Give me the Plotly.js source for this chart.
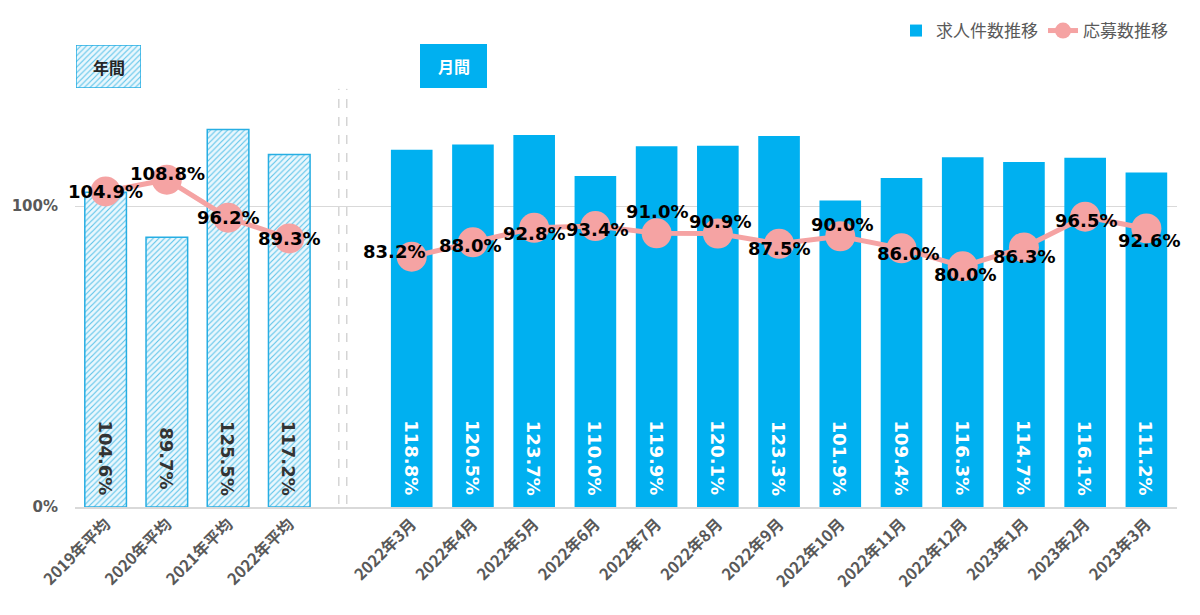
<!DOCTYPE html>
<html>
<head>
<meta charset="utf-8">
<script src="https://cdn.plot.ly/plotly-3.0.1.min.js"></script>
<style>html,body{margin:0;padding:0;background:#fff;}#chart{width:1200px;height:615px;}</style>
</head>
<body>
<div id="chart"></div>
<script>
// ---- data ----
const annualCategories = ['2019年平均', '2020年平均', '2021年平均', '2022年平均'];
const monthlyCategories = ['2022年3月', '2022年4月', '2022年5月', '2022年6月', '2022年7月', '2022年8月', '2022年9月', '2022年10月', '2022年11月', '2022年12月', '2023年1月', '2023年2月', '2023年3月'];
const annualJobs = [104.6, 89.7, 125.5, 117.2];
const annualApplicants = [104.9, 108.8, 96.2, 89.3];
const monthlyJobs = [118.8, 120.5, 123.7, 110.0, 119.9, 120.1, 123.3, 101.9, 109.4, 116.3, 114.7, 116.1, 111.2];
const monthlyApplicants = [83.2, 88.0, 92.8, 93.4, 91.0, 90.9, 87.5, 90.0, 86.0, 80.0, 86.3, 96.5, 92.6];
const seriesNames = ['求人件数推移', '応募数推移'];
const yTickVals = [0, 100];
const yTickText = ['0%', '100%'];

// ---- layout helpers (positions / styles) ----
const W = 1200, H = 615, ML = 75, MR = 23, MT = 45, MB = 108;
const plotW = W - ML - MR, plotH = H - MT - MB;
const pxPerUnit = 3.008;
const px2x = p => (p - ML) / plotW;
const px2y = p => (H - MB - p) / plotH;

const annualX = annualCategories.map((_, i) => i);
const gapSlot = annualCategories.length;            // empty slot between the two groups
const monthlyX = monthlyCategories.map((_, i) => gapSlot + 1 + i);
const annualLabelShift = [[0, 0], [1, 6], [0, 0], [0, 0]];
const monthlyLabelShift = [[-18, 5], [-3, -3], [0, -6], [2, -3], [0, 22], [2, 12], [0, -5], [2, 12], [6, -5], [2, -8], [0, -9], [1, -4], [3, -12]];

const BLUE = '#00b0f0';
const PINK = '#f5a3a3';
const hatch = {color: '#e4f5fc', line: {color: '#27aee3', width: 1.5},
               pattern: {shape: '/', fgcolor: '#5cc4ea', bgcolor: '#eaf7fd', size: 4, solidity: 0.28}};
const pct = v => v.toFixed(1) + '%';

const traces = [
  {
    type: 'bar', x: monthlyX, y: monthlyJobs, name: seriesNames[0],
    marker: {color: BLUE}, width: 0.68, showlegend: true, hoverinfo: 'skip'
  },
  {
    type: 'bar', x: annualX, y: annualJobs, name: seriesNames[0],
    marker: hatch, width: 0.68, showlegend: false, hoverinfo: 'skip'
  },
  {
    type: 'scatter', mode: 'lines+markers', x: monthlyX, y: monthlyApplicants, name: seriesNames[1],
    line: {color: PINK, width: 5}, marker: {color: PINK, size: 30}, showlegend: true, hoverinfo: 'skip'
  },
  {
    type: 'scatter', mode: 'lines+markers', x: annualX, y: annualApplicants, name: seriesNames[1],
    line: {color: PINK, width: 5}, marker: {color: PINK, size: 30}, showlegend: false, hoverinfo: 'skip'
  },
  // hatched "年間" label box
  {
    type: 'bar', x: [0], y: [1], xaxis: 'x2', yaxis: 'y2', width: 1, cliponaxis: false,
    marker: hatch, showlegend: false, hoverinfo: 'skip'
  }
];

const annotations = [];
annualApplicants.forEach((v, i) => annotations.push({
  x: annualX[i], y: v, text: '<b>' + pct(v) + '</b>', showarrow: false,
  xanchor: 'center', yanchor: 'middle', xshift: annualLabelShift[i][0], yshift: annualLabelShift[i][1],
  font: {family: 'DejaVu Sans', size: 18, color: '#000'}
}));
monthlyApplicants.forEach((v, i) => annotations.push({
  x: monthlyX[i], y: v, text: '<b>' + pct(v) + '</b>', showarrow: false,
  xanchor: 'center', yanchor: 'middle', xshift: monthlyLabelShift[i][0], yshift: monthlyLabelShift[i][1],
  font: {family: 'DejaVu Sans', size: 18, color: '#000'}
}));
annualJobs.forEach((v, i) => annotations.push({
  x: annualX[i], y: 0, text: '<b>' + pct(v) + '</b>', showarrow: false, textangle: 90,
  xanchor: 'center', yanchor: 'middle', yshift: 49,
  font: {family: 'DejaVu Sans', size: 18, color: '#333333'}
}));
monthlyJobs.forEach((v, i) => annotations.push({
  x: monthlyX[i], y: 0, text: '<b>' + pct(v) + '</b>', showarrow: false, textangle: 90,
  xanchor: 'center', yanchor: 'middle', yshift: 49,
  font: {family: 'DejaVu Sans', size: 18, color: '#ffffff'}
}));
// group header labels
annotations.push({
  xref: 'x2 domain', yref: 'y2 domain', x: 0.5, y: 0.5, text: '<b>年間</b>', showarrow: false,
  xanchor: 'center', yanchor: 'middle', font: {family: 'Noto Sans CJK JP', size: 16, color: '#262626'}
});
annotations.push({
  xref: 'paper', yref: 'paper', x: px2x(453.5), y: px2y(66), text: '<b>月間</b>', showarrow: false,
  xanchor: 'center', yanchor: 'middle', font: {family: 'Noto Sans CJK JP', size: 16, color: '#ffffff'}
});

const layout = {
  width: W, height: H,
  margin: {l: ML, r: MR, t: MT, b: MB},
  paper_bgcolor: '#ffffff', plot_bgcolor: '#ffffff',
  barmode: 'overlay',
  showlegend: true,
  legend: {orientation: 'h', x: px2x(1173), xanchor: 'right', y: px2y(13), yanchor: 'top',
           font: {family: 'Noto Sans CJK JP', size: 17, color: '#595959'}, traceorder: 'normal'},
  xaxis: {
    range: [-0.5, annualCategories.length + monthlyCategories.length + 0.5],
    tickmode: 'array',
    tickvals: annualX.concat(monthlyX),
    ticktext: annualCategories.concat(monthlyCategories).map(t => '<b>' + t + '</b>'),
    tickangle: -45, ticks: '', showgrid: false, zeroline: false, automargin: false,
    showline: true, linecolor: '#d9d9d9', linewidth: 1.5,
    tickfont: {family: 'Noto Sans CJK JP', size: 16, color: '#595959'}
  },
  yaxis: {
    range: [0, plotH / pxPerUnit], tickmode: 'array', tickvals: yTickVals, ticktext: yTickText.map(t => '<b>' + t + '</b>'),
    showgrid: true, gridcolor: '#d9d9d9', gridwidth: 1.2, zeroline: false, showline: false, automargin: false,
    ticks: '', ticklabelstandoff: 16,
    tickfont: {family: 'DejaVu Sans', size: 15, color: '#595959'}
  },
  xaxis2: {domain: [px2x(76), px2x(141)], range: [-0.5, 0.5], visible: false, anchor: 'y2', fixedrange: true},
  yaxis2: {domain: [px2y(88), px2y(44)], range: [0, 1], visible: false, anchor: 'x2', fixedrange: true},
  shapes: [
    {type: 'line', xref: 'x', yref: 'y', x0: 3.81, x1: 3.81, y0: 1, y1: 139, line: {color: '#bfbfbf', width: 1, dash: 'dash'}},
    {type: 'line', xref: 'x', yref: 'y', x0: 3.94, x1: 3.94, y0: 1, y1: 139, line: {color: '#bfbfbf', width: 1, dash: 'dash'}},
    {type: 'rect', xref: 'paper', yref: 'paper', x0: px2x(420), x1: px2x(487), y0: px2y(88), y1: px2y(44),
     fillcolor: BLUE, line: {width: 0}}
  ],
  annotations: annotations
};

Plotly.newPlot('chart', traces, layout, {displayModeBar: false, staticPlot: true});
</script>
</body>
</html>
